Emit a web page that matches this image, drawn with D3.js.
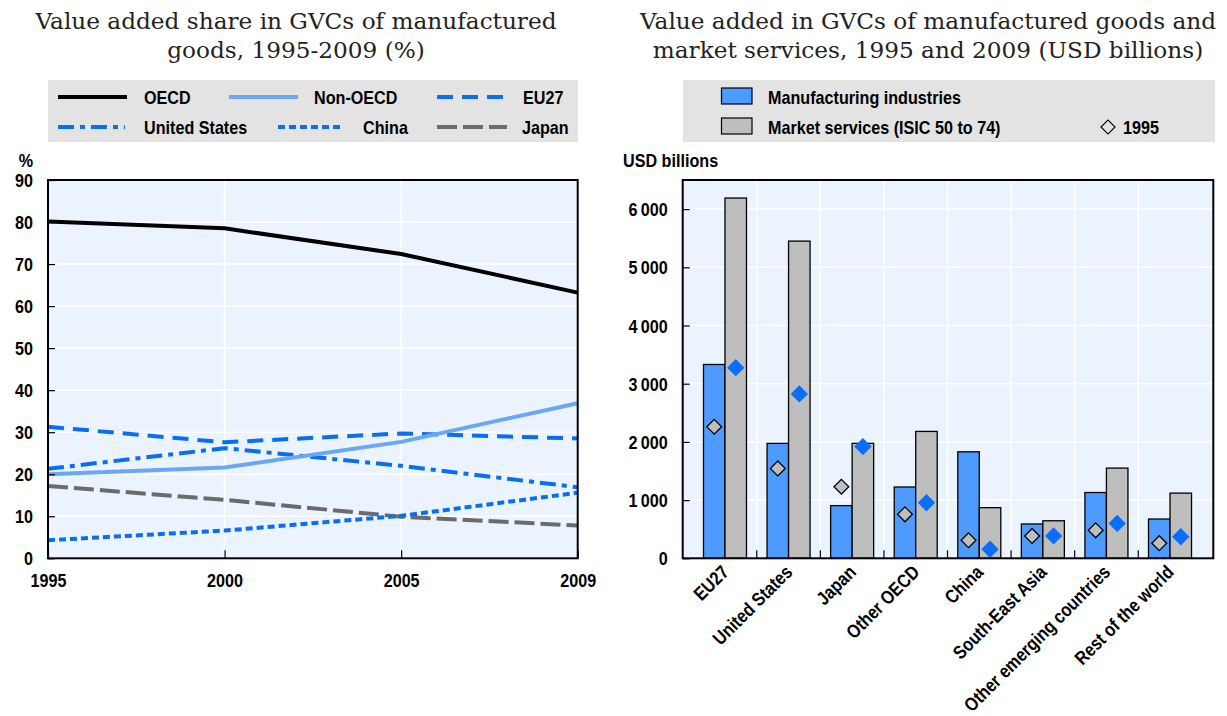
<!DOCTYPE html>
<html>
<head>
<meta charset="utf-8">
<script src="https://cdn.jsdelivr.net/npm/d3@7"></script>
<style>
  html, body { margin: 0; padding: 0; background: #ffffff; }
  svg { display: block; }
  .narrow { font-family: "Liberation Sans", Arial, sans-serif; font-weight: bold; fill: #000; }
  .title { font-family: "DejaVu Serif", "Liberation Serif", serif; fill: #222; }
</style>
</head>
<body>
<svg id="chart" width="1227" height="716"></svg>
<script>
// ---------------- DATA ----------------
const years = ["1995", "2000", "2005", "2009"];
const oecd = [80.1, 78.5, 72.4, 63.2];
const nonOecd = [20.0, 21.6, 27.7, 36.9];
const eu27 = [31.3, 27.6, 29.7, 28.5];
const unitedStates = [21.3, 26.2, 22.0, 16.9];
const china = [4.3, 6.6, 10.1, 15.6];
const japan = [17.2, 13.9, 9.9, 7.8];
const leftTicks = [0, 10, 20, 30, 40, 50, 60, 70, 80, 90];

const regions = ["EU27", "United States", "Japan", "Other OECD", "China", "South-East Asia", "Other emerging countries", "Rest of the world"];
const manufacturing2009 = [3330, 1975, 905, 1225, 1830, 590, 1130, 675];
const services2009 = [6190, 5450, 1975, 2180, 870, 645, 1550, 1120];
const manufacturing1995 = [2260, 1545, 1230, 755, 310, 385, 480, 260];
const services1995 = [3275, 2825, 1920, 955, 155, 385, 600, 370];
const rightTicks = [0, 1000, 2000, 3000, 4000, 5000, 6000];

// ---------------- STYLE ----------------
const BLUE = "#0a6ef2";
const LIGHTBLUE = "#6aa8f6";
const GREY_LINE = "#6b6b6b";
const BAR_BLUE = "#4d9bff";
const BAR_GREY = "#bebebe";
const PLOT_BG = "#eaf3fe";
const LEGEND_BG = "#e3e3e3";
const FS = 19;
const SQUEEZE = 0.85;
const TITLE_FS = 23.2;

const seriesLeft = [
  { name: "OECD", values: oecd, color: "#000000", dash: null },
  { name: "Non-OECD", values: nonOecd, color: LIGHTBLUE, dash: null },
  { name: "EU27", values: eu27, color: BLUE, dash: "16,9" },
  { name: "United States", values: unitedStates, color: BLUE, dash: "16,6,5,6" },
  { name: "China", values: china, color: BLUE, dash: "7,4" },
  { name: "Japan", values: japan, color: GREY_LINE, dash: "20,6" }
];

const svg = d3.select("#chart");

// ================= LEFT CHART =================
const L = { x0: 48, x1: 577.7, y0: 180, y1: 558.3 };
const xL = d3.scalePoint().domain(years).range([L.x0, L.x1]);
const yL = d3.scaleLinear().domain([0, 90]).range([L.y1, L.y0]);

// title
const tL = svg.append("text").attr("class", "title").attr("text-anchor", "middle").attr("font-size", TITLE_FS);
tL.append("tspan").attr("x", 296).attr("y", 29).text("Value added share in GVCs of manufactured");
tL.append("tspan").attr("x", 296).attr("y", 58).text("goods, 1995-2009 (%)");

// legend
svg.append("rect").attr("x", 48).attr("y", 80).attr("width", 530).attr("height", 62).attr("fill", LEGEND_BG);
const legPos = [
  { lx: 58, lw: 69, tx: 144, y: 97 },
  { lx: 229, lw: 69, tx: 314, y: 97 },
  { lx: 437, lw: 69, tx: 523, y: 97 },
  { lx: 58, lw: 67, tx: 144, y: 127 },
  { lx: 278, lw: 65, tx: 363, y: 127 },
  { lx: 437, lw: 70, tx: 522, y: 127 }
];
seriesLeft.forEach((s, i) => {
  const p = legPos[i];
  svg.append("line").attr("x1", p.lx).attr("x2", p.lx + p.lw).attr("y1", p.y).attr("y2", p.y)
    .attr("stroke", s.color).attr("stroke-width", 4).attr("stroke-dasharray", s.dash);
  svg.append("text").attr("class", "narrow").attr("font-size", FS).attr("x", p.tx).attr("y", p.y + 7).text(s.name);
});

// plot bg
const gL = svg.append("g");
gL.append("rect").attr("x", L.x0).attr("y", L.y0).attr("width", L.x1 - L.x0).attr("height", L.y1 - L.y0).attr("fill", PLOT_BG);
// grid
gL.selectAll(".hg").data(leftTicks.slice(1, -1)).enter().append("line")
  .attr("x1", L.x0).attr("x2", L.x1).attr("y1", d => yL(d)).attr("y2", d => yL(d))
  .attr("stroke", "#ffffff").attr("stroke-width", 1.5);
gL.selectAll(".vg").data(years.slice(1, -1)).enter().append("line")
  .attr("x1", d => xL(d)).attr("x2", d => xL(d)).attr("y1", L.y0).attr("y2", L.y1)
  .attr("stroke", "#ffffff").attr("stroke-width", 1.5);

// lines
const lineGen = d3.line().x((d, i) => xL(years[i])).y(d => yL(d));
const drawOrder = [5, 4, 3, 2, 1, 0];
drawOrder.forEach(i => {
  const s = seriesLeft[i];
  gL.append("path").attr("d", lineGen(s.values)).attr("fill", "none")
    .attr("stroke", s.color).attr("stroke-width", 4).attr("stroke-dasharray", s.dash)
    .attr("stroke-linejoin", "round");
});

// axes
const axLY = gL.append("g").attr("transform", `translate(${L.x0},0)`)
  .call(d3.axisRight(yL).tickValues(leftTicks).tickSize(7).tickFormat(d3.format("d")));
axLY.select(".domain").remove();
axLY.selectAll("line").attr("stroke", "#000").attr("stroke-width", 1.2);
axLY.selectAll("text").attr("class", "narrow").attr("font-size", FS).attr("x", -15).attr("text-anchor", "end").attr("dy", "0.35em").attr("fill", "#000");

const axLX = gL.append("g").attr("transform", `translate(0,${L.y1})`)
  .call(d3.axisTop(xL).tickSize(8));
axLX.select(".domain").remove();
axLX.selectAll("line").attr("stroke", "#000").attr("stroke-width", 1.2);
axLX.selectAll("text").attr("class", "narrow").attr("font-size", FS).attr("y", 29).attr("dy", 0).attr("fill", "#000");

gL.append("rect").attr("x", L.x0).attr("y", L.y0).attr("width", L.x1 - L.x0).attr("height", L.y1 - L.y0)
  .attr("fill", "none").attr("stroke", "#000").attr("stroke-width", 2);

svg.append("text").attr("class", "narrow").attr("font-size", FS).attr("x", 26).attr("y", 167).attr("text-anchor", "middle").text("%");

// ================= RIGHT CHART =================
const R = { x0: 682.7, x1: 1213.3, y0: 180, y1: 558.3 };
const xR = d3.scaleBand().domain(regions).range([693.2, 1201.8]).paddingInner(0).paddingOuter(0);
const yR = d3.scaleLinear().domain([0, 6500]).range([R.y1, R.y0]);
const barW = 21.5;

const tR = svg.append("text").attr("class", "title").attr("text-anchor", "middle").attr("font-size", TITLE_FS);
tR.append("tspan").attr("x", 928).attr("y", 29).text("Value added in GVCs of manufactured goods and");
tR.append("tspan").attr("x", 928).attr("y", 58).text("market services, 1995 and 2009 (USD billions)");

// legend
svg.append("rect").attr("x", 683).attr("y", 80).attr("width", 532).attr("height", 62).attr("fill", LEGEND_BG);
svg.append("rect").attr("x", 721.5).attr("y", 88).attr("width", 30.5).attr("height", 16).attr("fill", BAR_BLUE).attr("stroke", "#000").attr("stroke-width", 1.2);
svg.append("rect").attr("x", 721.5).attr("y", 118).attr("width", 30.5).attr("height", 16).attr("fill", BAR_GREY).attr("stroke", "#000").attr("stroke-width", 1.2);
svg.append("text").attr("class", "narrow").attr("font-size", FS).attr("x", 768).attr("y", 104).text("Manufacturing industries");
svg.append("text").attr("class", "narrow").attr("font-size", FS).attr("x", 768).attr("y", 134).text("Market services (ISIC 50 to 74)");
const diamond = d3.symbol().type(d3.symbolSquare).size(98);
svg.append("path").attr("d", diamond()).attr("transform", "translate(1108,127) rotate(45)")
  .attr("fill", "none").attr("stroke", "#000").attr("stroke-width", 1.2);
svg.append("text").attr("class", "narrow").attr("font-size", FS).attr("x", 1123).attr("y", 134).text("1995");

const gR = svg.append("g");
gR.append("rect").attr("x", R.x0).attr("y", R.y0).attr("width", R.x1 - R.x0).attr("height", R.y1 - R.y0).attr("fill", PLOT_BG);
gR.selectAll(".hg").data(rightTicks.slice(1)).enter().append("line")
  .attr("x1", R.x0).attr("x2", R.x1).attr("y1", d => yR(d)).attr("y2", d => yR(d))
  .attr("stroke", "#ffffff").attr("stroke-width", 1.5);
gR.selectAll(".vg").data(regions.slice(1)).enter().append("line")
  .attr("x1", d => xR(d)).attr("x2", d => xR(d)).attr("y1", R.y0).attr("y2", R.y1)
  .attr("stroke", "#ffffff").attr("stroke-width", 1.5);

// ticks at band boundaries on x axis
gR.selectAll(".xt").data(regions.slice(1)).enter().append("line")
  .attr("x1", d => xR(d)).attr("x2", d => xR(d)).attr("y1", R.y1).attr("y2", R.y1 - 8)
  .attr("stroke", "#000").attr("stroke-width", 1.2);

const cx = d => xR(d) + xR.bandwidth() / 2;
// bars
gR.selectAll(".bm").data(regions).enter().append("rect")
  .attr("x", d => cx(d) - barW).attr("width", barW)
  .attr("y", (d, i) => yR(manufacturing2009[i])).attr("height", (d, i) => yR(0) - yR(manufacturing2009[i]))
  .attr("fill", BAR_BLUE).attr("stroke", "#000").attr("stroke-width", 1.3);
gR.selectAll(".bs").data(regions).enter().append("rect")
  .attr("x", d => cx(d)).attr("width", barW)
  .attr("y", (d, i) => yR(services2009[i])).attr("height", (d, i) => yR(0) - yR(services2009[i]))
  .attr("fill", BAR_GREY).attr("stroke", "#000").attr("stroke-width", 1.3);

// diamonds
const dsym = d3.symbol().type(d3.symbolSquare).size(110);
gR.selectAll(".dm").data(regions).enter().append("path")
  .attr("d", dsym())
  .attr("transform", (d, i) => `translate(${cx(d) - barW / 2},${yR(manufacturing1995[i])}) rotate(45)`)
  .attr("fill", BAR_GREY).attr("stroke", "#000").attr("stroke-width", 1.3);
gR.selectAll(".ds").data(regions).enter().append("path")
  .attr("d", d3.symbol().type(d3.symbolSquare).size(150)())
  .attr("transform", (d, i) => `translate(${cx(d) + barW / 2},${yR(services1995[i])}) rotate(45)`)
  .attr("fill", "#0a6ef8");

// y axis
const fmt = v => d3.format(",")(v).replace(/,/g, "\u2009");
const axRY = gR.append("g").attr("transform", `translate(${R.x0},0)`)
  .call(d3.axisRight(yR).tickValues(rightTicks).tickSize(7).tickFormat(fmt));
axRY.select(".domain").remove();
axRY.selectAll("line").attr("stroke", "#000").attr("stroke-width", 1.2);
axRY.selectAll("text").attr("class", "narrow").attr("font-size", FS).attr("x", -15).attr("text-anchor", "end").attr("dy", "0.35em").attr("fill", "#000");

gR.append("rect").attr("x", R.x0).attr("y", R.y0).attr("width", R.x1 - R.x0).attr("height", R.y1 - R.y0)
  .attr("fill", "none").attr("stroke", "#000").attr("stroke-width", 2);

// x labels rotated
gR.selectAll(".xl").data(regions).enter().append("text")
  .attr("class", "narrow").attr("font-size", FS).attr("text-anchor", "end")
  .attr("transform", d => `translate(${cx(d) + 5},${R.y1 + 15}) rotate(-45)`)
  .text(d => d);

svg.append("text").attr("class", "narrow").attr("font-size", FS).attr("x", 623).attr("y", 167).text("USD billions");

// condense the bold sans texts horizontally (narrow typeface look)
svg.selectAll("text.narrow").each(function () {
  const w = this.getComputedTextLength();
  d3.select(this).attr("textLength", w * SQUEEZE).attr("lengthAdjust", "spacingAndGlyphs");
});
</script>
</body>
</html>
